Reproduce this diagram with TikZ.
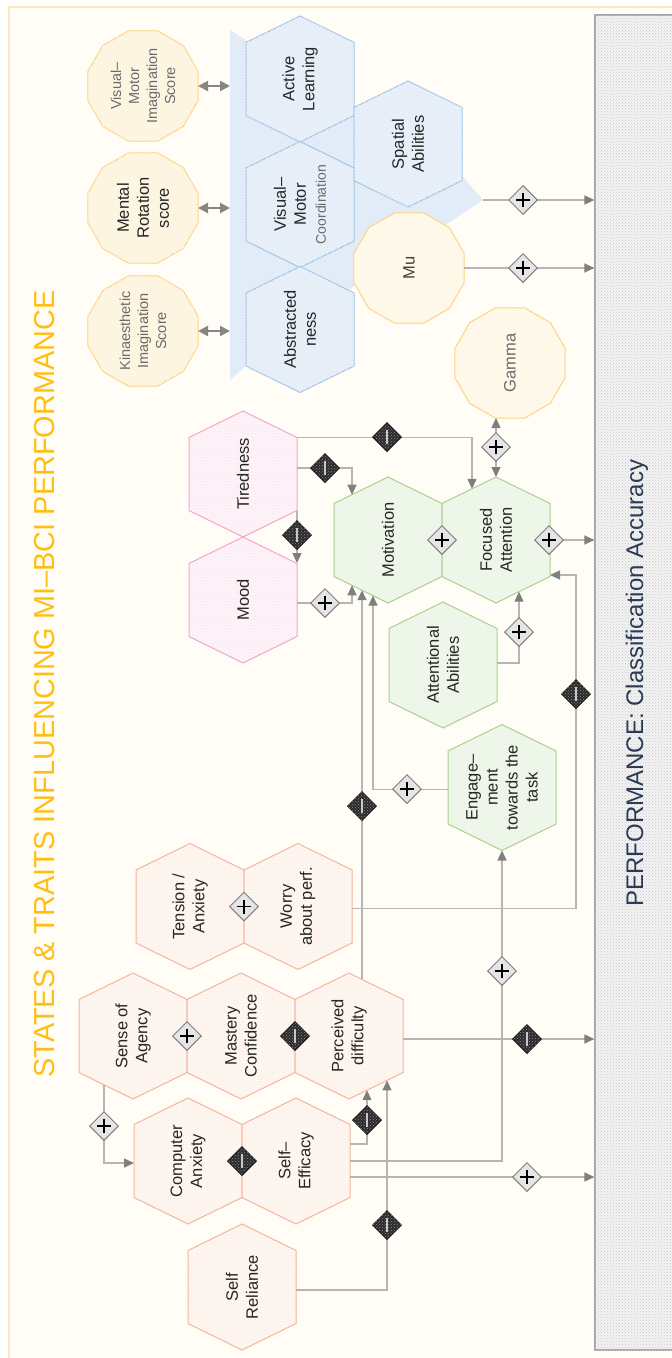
\documentclass[tikz,border=0pt]{standalone}
\usepackage{fontspec}
\setmainfont{Liberation Sans}
\usetikzlibrary{arrows.meta,shapes.geometric,calc,patterns}

\definecolor{cream}{HTML}{FFFDF6}
\definecolor{framec}{HTML}{FCE6BE}
\definecolor{titlec}{HTML}{FFBF12}
\definecolor{perfc}{HTML}{2B3A55}
\definecolor{perfF}{HTML}{F3F3F3}
\definecolor{perfE}{HTML}{A6A6A6}
\definecolor{blueE}{HTML}{9DC3E6}
\definecolor{blueF}{HTML}{EDF3FB}
\definecolor{blueP}{HTML}{DCE7F5}
\definecolor{bandc}{HTML}{E2ECF8}
\definecolor{orgE}{HTML}{FFD27F}
\definecolor{orgF}{HTML}{FFF9EC}
\definecolor{orgP}{HTML}{FCEDCF}
\definecolor{pinkE}{HTML}{F5A3C9}
\definecolor{pinkF}{HTML}{FDF3F8}
\definecolor{pinkP}{HTML}{F9D6E7}
\definecolor{salE}{HTML}{F4B49A}
\definecolor{salF}{HTML}{FEF6F1}
\definecolor{salP}{HTML}{F9DED0}
\definecolor{grnE}{HTML}{A9D18E}
\definecolor{grnF}{HTML}{EEF6E9}
\definecolor{lgray}{HTML}{B5B5B5}
\definecolor{agray}{HTML}{7F7F7F}
\definecolor{dgray}{HTML}{858585}
\definecolor{txtc}{HTML}{262626}
\definecolor{softtxt}{HTML}{6B6B6B}
\definecolor{negF}{HTML}{2B2B2B}
\definecolor{negP}{HTML}{8C8C8C}
\definecolor{barc}{HTML}{C8C8C8}

\newcommand\hexshape[3]{%
  \node[hexbox] (#1) at (#2) {};
  \draw[#3] ($(#1)+(0,-63)$) -- ($(#1)+(54,-36.5)$) -- ($(#1)+(54,36.5)$) -- ($(#1)+(0,63)$) -- ($(#1)+(-54,36.5)$) -- ($(#1)+(-54,-36.5)$) -- cycle;
}
\newcommand\dodshape[3]{%
  \node[dodbox] (#1) at (#2) {};
  \draw[#3] ($(#1)+(15:57)$) \foreach \a in {45,75,...,345}{ -- ($(#1)+(\a:57)$)} -- cycle;
}
\newcommand\plussign{\makebox[0pt]{\rule[-0.7pt]{14pt}{1.4pt}}\makebox[0pt]{\rule[-7pt]{1.4pt}{14pt}}}
\newcommand\minussign{\textcolor{barc}{\rule[-7pt]{1.5pt}{14pt}}}

\tikzset{
  hexbox/.style={inner sep=0pt, outer sep=0pt, minimum width=108pt, minimum height=126pt, draw=none},
  dodbox/.style={inner sep=0pt, outer sep=0pt, minimum size=110pt, draw=none},
  blueH/.style={draw=blueE, line width=1pt, fill=blueF, postaction={pattern=north east lines, pattern color=blueP}},
  orgH/.style={draw=orgE, line width=1pt, fill=orgF, postaction={pattern=north east lines, pattern color=orgP}},
  orgD/.style={draw=orgE, line width=1pt, fill=orgF, postaction={pattern=dots, pattern color=orgP}},
  pinkH/.style={draw=pinkE, line width=1pt, fill=pinkF, postaction={pattern=dots, pattern color=pinkP}},
  salH/.style={draw=salE, line width=1pt, fill=salF, postaction={pattern=dots, pattern color=salP}},
  grnH/.style={draw=grnE, line width=1pt, fill=grnF},
  lab/.style={rotate=90, align=center, text=txtc, inner sep=0pt, font=\fontsize{16.5}{20}\selectfont},
  smalllab/.style={rotate=90, align=center, text=softtxt, inner sep=0pt, font=\fontsize{14.5}{18}\selectfont},
  conn/.style={draw=lgray, line width=1.3pt, -{Triangle[length=10pt,width=9pt,color=agray]}},
  conntwo/.style={draw=lgray, line width=1.3pt, {Triangle[length=10pt,width=9pt,color=agray]}-{Triangle[length=10pt,width=9pt,color=agray]}},
  dbl/.style={draw=dgray, line width=2pt, {Triangle[length=10pt,width=10pt]}-{Triangle[length=10pt,width=10pt]}},
  plusd/.style={diamond, draw=agray, line width=1pt, fill=black!10, minimum size=29pt, inner sep=0pt, text=black},
  minusd/.style={diamond, draw=black!90, line width=1pt, fill=negF, minimum size=29pt, inner sep=0pt, postaction={pattern=crosshatch dots, pattern color=negP}},
}

\begin{document}
\begin{tikzpicture}[x=1pt, y=-1pt]
\useasboundingbox (0,0) rectangle (672,1358);
\clip (0,0) rectangle (672,1358);
\fill[white] (0,0) rectangle (672,1358);
\draw[framec, line width=1.5pt, fill=cream] (9,7) rectangle (700,1380);

% title
\node[rotate=90, text=titlec, inner sep=0pt, font=\fontsize{28.9}{30}\selectfont] (title) at (45,684) {STATES \& TRAITS INFLUENCING MI–BCI PERFORMANCE};

% performance bar
\node[draw=perfE, line width=1.2pt, fill=perfF, minimum width=100pt, minimum height=1335pt, inner sep=0pt, postaction={pattern=crosshatch dots, pattern color=black!22}] (perf) at (645,682.5) {};
\node[rotate=90, text=perfc, inner sep=0pt, font=\fontsize{24}{26}\selectfont] (perftxt) at (637,683) {PERFORMANCE: Classification Accuracy};

% blue band
\fill[bandc] (230,30) -- (246,40) -- (354,111) -- (462,176) -- (483,200) -- (450,222) -- (357,284) -- (246,366) -- (230,380) -- cycle;
\coordinate (tip) at (483,200);
\coordinate (bandL) at (230,200);

% blue hexagons
\hexshape{al}{300,79}{blueH}
\hexshape{vm}{300,204.5}{blueH}
\hexshape{ab}{300,329.5}{blueH}
\hexshape{sp}{408,144}{blueH}
\node[lab] at (al) {Active\\Learning};
\node[lab] at (vm) {Visual–\\Motor\\{\fontsize{14}{18}\selectfont\color{softtxt}Coordination}};
\node[lab] at (ab) {Abstracted\\ness};
\node[lab] at (sp) {Spatial\\Abilities};

% orange dodecagons
\dodshape{vmi}{143,86}{orgH}
\dodshape{mr}{143,208}{orgH}
\dodshape{ki}{143,331}{orgH}
\dodshape{mu}{409,268}{orgD}
\dodshape{gam}{510,363}{orgD}
\node[smalllab] at (vmi) {Visual–\\Motor\\Imagination\\Score};
\node[lab] at (mr) {Mental\\Rotation\\score};
\node[smalllab] at (ki) {Kinaesthetic\\Imagination\\Score};
\node[lab, text=black!75] at (mu) {Mu};
\node[lab, text=softtxt] at (gam) {Gamma};

% pink
\hexshape{tired}{243,474}{pinkH}
\hexshape{mood}{243,600}{pinkH}
\node[lab] at (tired) {Tiredness};
\node[lab] at (mood) {Mood};

% green
\hexshape{mot}{388,540}{grnH}
\hexshape{foc}{496,540}{grnH}
\hexshape{att}{443,665}{grnH}
\hexshape{eng}{502,787.5}{grnH}
\node[lab] at (mot) {Motivation};
\node[lab] at (foc) {Focused\\Attention};
\node[lab] at (att) {Attentional\\Abilities};
\node[lab] at (eng) {Engage–\\ment\\towards the\\task};

% salmon
\hexshape{tens}{190,906.5}{salH}
\hexshape{worry}{298,906.5}{salH}
\hexshape{soa}{133,1036}{salH}
\hexshape{mast}{241,1036}{salH}
\hexshape{perc}{349,1036}{salH}
\hexshape{ca}{188,1161}{salH}
\hexshape{se}{296,1161}{salH}
\hexshape{sr}{242,1287}{salH}
\node[lab] at (tens) {Tension /\\Anxiety};
\node[lab] at (worry) {Worry\\about perf.};
\node[lab] at (soa) {Sense of\\Agency};
\node[lab] at (mast) {Mastery\\Confidence};
\node[lab] at (perc) {Perceived\\difficulty};
\node[lab] at (ca) {Computer\\Anxiety};
\node[lab] at (se) {Self–\\Efficacy};
\node[lab] at (sr) {Self\\Reliance};

% double arrows
\draw[dbl] (vmi.east) -- (vmi.east -| bandL);
\draw[dbl] (mr.east) -- (mr.east -| bandL);
\draw[dbl] (ki.east) -- (ki.east -| bandL);

% connectors
\draw[conn] (tip) -- (tip -| perf.west);
\draw[conn] (mu.east) -- (mu.east -| perf.west);
\draw[conntwo] (foc.north) -- (foc.north |- gam.south);
\draw[conn] (foc.east) -- (foc.east -| perf.west);
\draw[conn] ($(tired.east)+(0,36.5)$) -- ($(mood.east)+(0,-37)$);
\draw[conn] ($(tired.east)+(0,-6)$) -| ($(mot.center)+(-36,-45.3)$);
\draw[conn] ($(tired.east)+(0,-36.5)$) -| ($(foc.center)+(-24,-51.2)$);
\draw[conn] ($(mood.east)+(0,3)$) -| ($(mot.center)+(-36,45.3)$);
\draw[conn] ($(att.east)+(0,-2)$) -| ($(foc.center)+(23,51.7)$);
\draw[conn] ($(worry.east)+(0,2)$) -| ($(foc.east)+(26,35)$) -- ($(foc.east)+(0,35)$);
\draw[conn] ($(eng.west)+(0,2)$) -| ($(mot.center)+(-15,55.6)$);
\draw[conn] ($(perc.center)+(13,-56.6)$) -- ($(mot.center)+(-26,50.2)$);
\draw[conn] ($(perc.east)+(0,3)$) coordinate (p1) -- (p1 -| perf.west);
\draw[conn] ($(se.east)+(0,-17)$) -| ($(perc.center)+(18,54.2)$);
\draw[conn] (se.east) -| (eng.south);
\draw[conn] ($(se.east)+(0,16)$) coordinate (p2) -- (p2 -| perf.west);
\draw[conn] ($(sr.east)+(0,3)$) -| ($(perc.center)+(38,44.4)$);
\draw[conn] ($(soa.center)+(-29,48.8)$) |- ($(ca.west)+(0,2)$);

% plus gates
\node[plusd] (g1) at (523,200) {\plussign};
\node[plusd] (g2) at (523,268) {\plussign};
\node[plusd] (g3) at (496,447) {\plussign};
\node[plusd] (g4) at (549,540) {\plussign};
\node[plusd] (g5) at (mot.east) {\plussign};
\node[plusd] (g6) at (325,603) {\plussign};
\node[plusd] (g7) at (519,632) {\plussign};
\node[plusd] (g8) at (407,789) {\plussign};
\node[plusd] (g9) at (502,971) {\plussign};
\node[plusd] (g10) at (527,1177) {\plussign};
\node[plusd] (g11) at (tens.east) {\plussign};
\node[plusd] (g12) at (soa.east) {\plussign};
\node[plusd] (g13) at (104,1126) {\plussign};

% minus gates
\node[minusd] (m1) at (297,535) {\minussign};
\node[minusd] (m2) at (325,468) {\minussign};
\node[minusd] (m3) at (387,437) {\minussign};
\node[minusd] (m4) at (576,694) {\minussign};
\node[minusd] (m5) at (362,806) {\minussign};
\node[minusd] (m6) at (527,1039) {\minussign};
\node[minusd] (m7) at (367,1120) {\minussign};
\node[minusd] (m8) at (387,1225) {\minussign};
\node[minusd] (m9) at (mast.east) {\minussign};
\node[minusd] (m10) at (ca.east) {\minussign};
\end{tikzpicture}
\end{document}
